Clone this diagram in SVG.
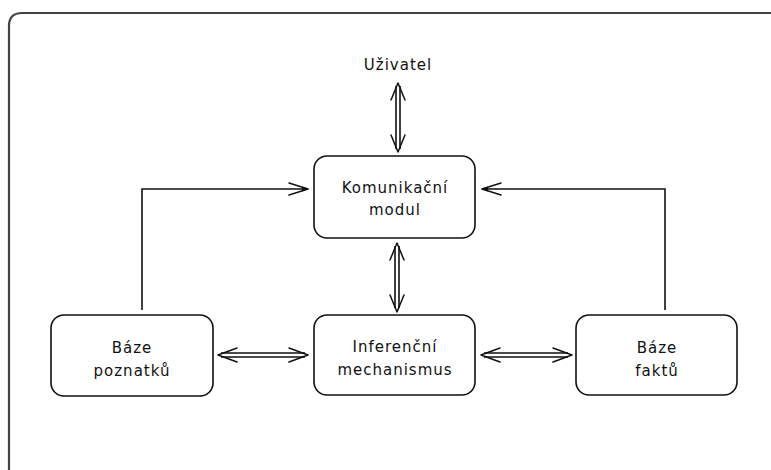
<svg xmlns="http://www.w3.org/2000/svg" width="771" height="470" viewBox="0 0 771 470">
  <style>
    .frame { fill: none; stroke: #444; stroke-width: 2.2; }
    .box { fill: #fff; stroke: #111; stroke-width: 1.6; }
    .lbl { font-family: "DejaVu Sans", "Liberation Sans", sans-serif; font-size: 15px; fill: #111; text-anchor: middle; letter-spacing: 1px; }
    .wire { fill: none; stroke: #111; stroke-width: 1.6; }
    .barb { fill: none; stroke: #111; stroke-width: 1.5; stroke-linecap: round; stroke-linejoin: round; }
  </style>
  <rect width="771" height="470" fill="#fff"/>

  <!-- outer frame (only top and left edges visible) -->
  <path class="frame" d="M9,470 V26 Q9,13 22,13 H771"/>

  <!-- user label -->
  <g id="uzivatel">
    <text class="lbl" x="398" y="70">Uživatel</text>
  </g>

  <g id="komunikacni-modul">
    <rect class="box" x="314" y="156" width="161" height="82" rx="13"/>
    <text class="lbl" x="395" y="193">Komunikační</text>
    <text class="lbl" x="395" y="215">modul</text>
  </g>

  <g id="inferencni-mechanismus">
    <rect class="box" x="314" y="315" width="161" height="80" rx="13"/>
    <text class="lbl" x="395" y="352">Inferenční</text>
    <text class="lbl" x="395" y="375">mechanismus</text>
  </g>

  <g id="baze-poznatku">
    <rect class="box" x="51" y="315" width="162" height="81" rx="13"/>
    <text class="lbl" x="132" y="353">Báze</text>
    <text class="lbl" x="132" y="376">poznatků</text>
  </g>

  <g id="baze-faktu">
    <rect class="box" x="576" y="315" width="161" height="80" rx="13"/>
    <text class="lbl" x="657" y="353">Báze</text>
    <text class="lbl" x="657" y="376">faktů</text>
  </g>

  <g id="connectors">
    <!-- Uživatel <-> Komunikační modul -->
    <path class="wire" d="M396,86 V149 M400,86 V149"/>
    <path class="barb" d="M391,100 L398,83 L405,100 M391,135 L398,152 L405,135"/>

    <!-- Komunikační modul <-> Inferenční mechanismus -->
    <path class="wire" d="M395,246 V308 M399,246 V308"/>
    <path class="barb" d="M390,260 L397,243 L404,260 M390,295 L397,312 L404,295"/>

    <!-- Báze poznatků <-> Inferenční mechanismus -->
    <path class="wire" d="M221,353 H305 M221,357 H305"/>
    <path class="barb" d="M237,348 L218,355 L237,362 M289,348 L308,355 L289,362"/>

    <!-- Inferenční mechanismus <-> Báze faktů -->
    <path class="wire" d="M484,353 H568 M484,357 H568"/>
    <path class="barb" d="M500,348 L481,355 L500,362 M553,348 L572,355 L553,362"/>

    <!-- Báze poznatků -> Komunikační modul -->
    <path class="wire" d="M142,310 V189 H307"/>
    <path class="barb" d="M289,183 L308,189 L289,195"/>
    <path d="M302,186.5 L309,189 L302,191.5 Z" fill="#111"/>

    <!-- Báze faktů -> Komunikační modul -->
    <path class="wire" d="M665,310 V189 H482"/>
    <path class="barb" d="M501,183 L482,189 L501,195"/>
    <path d="M488,186.5 L481,189 L488,191.5 Z" fill="#111"/>
  </g>
</svg>
